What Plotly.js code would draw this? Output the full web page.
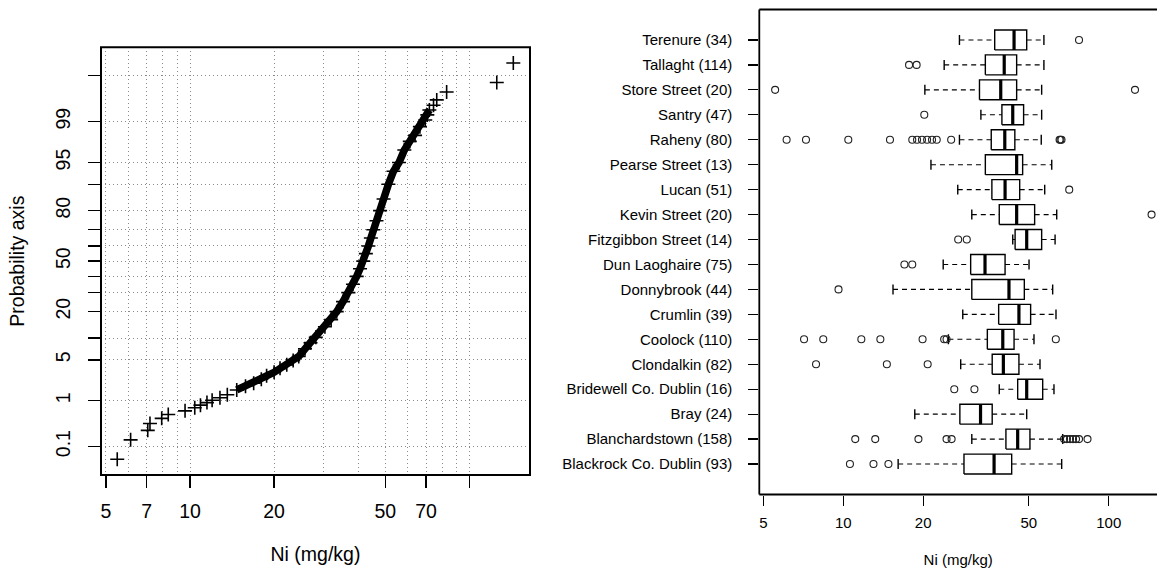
<!DOCTYPE html>
<html><head><meta charset="utf-8">
<script src="https://cdn.plot.ly/plotly-3.0.1.min.js"></script>
<style>html,body{margin:0;padding:0;background:#fff;overflow:hidden}</style>
</head><body><div id="chart" style="width:1157px;height:577px"></div>
<script>
// ---------- Left panel: cumulative probability plot of Ni ----------
const niValues   = [5.49, 6.13, 7.06, 7.19, 7.92, 8.36, 9.60, 10.4, 10.9, 11.5, 12.0, 12.8, 13.6, 14.7, 15.8, 16.9, 18.0, 18.8, 20.0, 21.0, 22.2, 23.4, 24.5, 25.8, 27.0, 28.2, 30.4, 32.0, 33.5, 35.3, 36.9, 38.3, 39.5, 40.6, 41.7, 42.6, 43.5, 44.4, 45.3, 46.5, 47.9, 49.3, 51.3, 53.5, 56.0, 58.5, 61.2, 63.9, 66.5, 69.5, 70.7, 71.9, 74.4, 76.4, 82.9, 125.3, 143.6];
const cumPercent = [0.048, 0.145, 0.24, 0.34, 0.44, 0.53, 0.63, 0.73, 0.82, 0.92, 1.02, 1.14, 1.30, 1.59, 1.85, 2.1, 2.45, 2.8, 3.2, 3.7, 4.2, 4.9, 5.6, 7.2, 8.7, 10.2, 13.7, 16.5, 20, 25, 30, 35, 40, 45, 50, 55, 60, 65, 70, 75, 80, 85, 90, 93.3, 95, 96.8, 97.7, 98.2, 98.75, 99.07, 99.26, 99.41, 99.53, 99.64, 99.76, 99.855, 99.952];
const probTickPercent = [0.1, 1, 5, 10, 20, 30, 40, 50, 60, 70, 80, 90, 95, 99, 99.9];
const probTickText    = ['0.1', '1', '5', '', '20', '', '', '50', '', '', '80', '', '95', '99', ''];
const niTickVals = [5, 7, 10, 20, 50, 70, 100];
const niTickText = ['5', '7', '10', '20', '50', '70', ''];
const niGridVals = [5, 6, 7, 8, 9, 10, 20, 30, 40, 50, 60, 70, 80, 90, 100];

// ---------- Right panel: boxplots by district (bottom to top) ----------
const districts = ['Blackrock Co. Dublin (93)', 'Blanchardstown (158)', 'Bray (24)', 'Bridewell Co. Dublin (16)', 'Clondalkin (82)', 'Coolock (110)', 'Crumlin (39)', 'Donnybrook (44)', 'Dun Laoghaire (75)', 'Fitzgibbon Street (14)', 'Kevin Street (20)', 'Lucan (51)', 'Pearse Street (13)', 'Raheny (80)', 'Santry (47)', 'Store Street (20)', 'Tallaght (114)', 'Terenure (34)'];
const whiskerLow  = [16.1, 30.5, 18.6, 38.7, 27.7, 24.9, 28.2, 15.4, 23.8, 43.5, 30.5, 27.0, 21.4, 27.4, 33.0, 20.3, 24.0, 27.4];
const q1          = [28.5, 41.0, 27.5, 45.4, 36.4, 34.9, 38.5, 30.5, 30.2, 44.4, 38.7, 36.3, 34.3, 36.1, 39.6, 32.6, 34.3, 37.2];
const medians     = [37.0, 45.4, 32.9, 49.1, 40.1, 39.9, 45.9, 42.1, 34.2, 49.1, 45.0, 40.7, 45.0, 40.6, 43.5, 39.2, 40.4, 44.0];
const q3          = [43.1, 50.5, 36.4, 56.4, 45.9, 44.0, 50.8, 48.1, 40.7, 55.9, 52.6, 46.2, 47.4, 44.3, 47.8, 45.0, 45.0, 49.1];
const whiskerHigh = [66.5, 67.1, 49.1, 62.2, 55.1, 52.3, 63.3, 61.5, 50.1, 62.8, 63.7, 57.4, 61.0, 55.7, 55.9, 55.9, 57.0, 57.0];
const outliers = [
  [10.6, 13.0, 14.8],
  [11.1, 13.2, 19.2, 24.5, 25.6, 67.9, 69.6, 71.5, 73.4, 75.3, 77.3, 83.2],
  [],
  [26.2, 31.2],
  [7.9, 14.6, 20.8],
  [7.12, 8.41, 11.7, 13.8, 19.9, 24.0, 24.5, 63.2],
  [],
  [9.6],
  [17.0, 18.2],
  [27.1, 29.2],
  [145.0],
  [71.0],
  [],
  [6.12, 7.24, 10.45, 15.0, 18.2, 18.97, 19.8, 20.7, 21.6, 22.5, 25.5, 65.3, 65.8, 66.4],
  [20.2],
  [5.54, 125.6],
  [17.7, 18.9],
  [77.3]
];
const boxTickVals = [5, 10, 20, 50, 100];

// inverse standard normal (probability axis transform)
function qnorm(p){
  const a=[-3.969683028665376e+01,2.209460984245205e+02,-2.759285104469687e+02,1.383577518672690e+02,-3.066479806614716e+01,2.506628277459239e+00];
  const b=[-5.447609879822406e+01,1.615858368580409e+02,-1.556989798598866e+02,6.680131188771972e+01,-1.328068155288572e+01];
  const c=[-7.784894002430293e-03,-3.223964580411365e-01,-2.400758277161838e+00,-2.549732539343734e+00,4.374664141464968e+00,2.938163982698783e+00];
  const d=[7.784695709041462e-03,3.224671290700398e-01,2.445134137142996e+00,3.754408661907416e+00];
  const pl=0.02425, ph=1-pl; let q, r;
  if(p<pl){q=Math.sqrt(-2*Math.log(p));return (((((c[0]*q+c[1])*q+c[2])*q+c[3])*q+c[4])*q+c[5])/((((d[0]*q+d[1])*q+d[2])*q+d[3])*q+1);}
  if(p<=ph){q=p-0.5;r=q*q;return (((((a[0]*r+a[1])*r+a[2])*r+a[3])*r+a[4])*r+a[5])*q/(((((b[0]*r+b[1])*r+b[2])*r+b[3])*r+b[4])*r+1);}
  q=Math.sqrt(-2*Math.log(1-p));return -(((((c[0]*q+c[1])*q+c[2])*q+c[3])*q+c[4])*q+c[5])/((((d[0]*q+d[1])*q+d[2])*q+d[3])*q+1);
}
const zOf = pc => qnorm(pc/100);

const W = 1157, H = 577;
const FONT = 'Liberation Sans, Arial, Helvetica, sans-serif';
const px = v => v / W, py = v => 1 - v / H;

const traces = [];
// dense band of overlapping points
const bandX = [], bandY = [];
niValues.forEach((v, i) => { if (v >= 14.7 && v <= 71.9) { bandX.push(v); bandY.push(zOf(cumPercent[i])); } });
traces.push({x: bandX, y: bandY, xaxis: 'x', yaxis: 'y', mode: 'lines', line: {color: '#000', width: 7.5}, hoverinfo: 'skip', showlegend: false});
traces.push({x: niValues, y: cumPercent.map(zOf), xaxis: 'x', yaxis: 'y', mode: 'markers',
  marker: {symbol: 'cross-thin', size: 10, line: {color: '#000', width: 1.6}}, hoverinfo: 'skip', showlegend: false});

// boxplots
const BH = 0.4, SH = 0.2;
const bx = [], by = [], mx = [], my = [], wx = [], wy = [], sx = [], sy = [], ox = [], oy = [];
districts.forEach((d, k) => {
  const i = k + 1;
  bx.push(q1[k], q3[k], q3[k], q1[k], q1[k], null); by.push(i-BH, i-BH, i+BH, i+BH, i-BH, null);
  mx.push(medians[k], medians[k], null); my.push(i-BH, i+BH, null);
  wx.push(whiskerLow[k], q1[k], null, q3[k], whiskerHigh[k], null); wy.push(i, i, null, i, i, null);
  sx.push(whiskerLow[k], whiskerLow[k], null, whiskerHigh[k], whiskerHigh[k], null); sy.push(i-SH, i+SH, null, i-SH, i+SH, null);
  outliers[k].forEach(o => { ox.push(o); oy.push(i); });
});
const common2 = {xaxis: 'x2', yaxis: 'y2', hoverinfo: 'skip', showlegend: false};
traces.push(Object.assign({x: wx, y: wy, mode: 'lines', line: {color: '#000', width: 1.1, dash: '5px,4px'}}, common2));
traces.push(Object.assign({x: sx, y: sy, mode: 'lines', line: {color: '#000', width: 1.4}}, common2));
traces.push(Object.assign({x: bx, y: by, mode: 'lines', line: {color: '#000', width: 1.4}, fill: 'none'}, common2));
traces.push(Object.assign({x: mx, y: my, mode: 'lines', line: {color: '#000', width: 3.2}}, common2));
traces.push(Object.assign({x: ox, y: oy, mode: 'markers', marker: {symbol: 'circle-open', size: 7, color: '#222', line: {width: 1.1, color: '#222'}}}, common2));

const gridStyle = {gridcolor: '#8a8a8a', gridwidth: 1, griddash: '1px,3px'};
const layout = {
  width: W, height: H, margin: {l: 0, r: 0, t: 0, b: 0},
  paper_bgcolor: '#fff', plot_bgcolor: '#fff',
  font: {family: FONT, color: '#000'},
  showlegend: false,
  xaxis: {
    type: 'log', range: [0.68146, 2.21689], domain: [px(101), px(530)], anchor: 'y',
    tickmode: 'array', tickvals: niTickVals, ticktext: niTickText,
    ticks: 'outside', ticklen: 12, tickwidth: 1.5, tickcolor: '#000', ticklabelstandoff: 7,
    tickfont: {size: 19.5, family: FONT, color: '#000'},
    showgrid: false, zeroline: false, showline: false,
    minor: Object.assign({tickmode: 'array', tickvals: niGridVals, showgrid: true, ticks: ''}, gridStyle),
    title: {text: 'Ni (mg/kg)', font: {size: 19.5, family: FONT, color: '#000'}, standoff: 25}
  },
  yaxis: {
    range: [-3.564, 3.564], domain: [py(475), py(47.3)], anchor: 'x',
    tickmode: 'array', tickvals: probTickPercent.map(zOf), ticktext: probTickText, tickangle: -90,
    ticks: 'outside', ticklen: 12, tickwidth: 1.5, tickcolor: '#000', ticklabelstandoff: 10,
    tickfont: {size: 19.5, family: FONT, color: '#000'},
    showgrid: true, gridcolor: gridStyle.gridcolor, gridwidth: 1, griddash: gridStyle.griddash,
    zeroline: false, showline: false,
    title: {text: 'Probability axis', font: {size: 19.5, family: FONT, color: '#000'}, standoff: 22}
  },
  xaxis2: {
    type: 'log', range: [0.68390, 2.18184], domain: [px(759.3), 1], anchor: 'y2',
    tickmode: 'array', tickvals: boxTickVals, ticktext: boxTickVals.map(String),
    ticks: 'outside', ticklen: 10, tickwidth: 1.3, tickcolor: '#000', ticklabelstandoff: 4,
    tickfont: {size: 15, family: FONT, color: '#000'},
    showgrid: false, zeroline: false, showline: false,
    title: {text: 'Ni (mg/kg)', font: {size: 15, family: FONT, color: '#000'}, standoff: 24}
  },
  yaxis2: {
    range: [-0.22, 19.22], domain: [py(494.5), py(9.5)], anchor: 'x2',
    tickmode: 'array', tickvals: districts.map((d, k) => k + 1), ticktext: districts,
    ticks: 'outside', ticklen: 10, tickwidth: 1.3, tickcolor: '#000', ticklabelstandoff: 13,
    tickfont: {size: 15, family: FONT, color: '#000'},
    showgrid: false, zeroline: false, showline: false
  },
  shapes: [
    {type: 'rect', xref: 'x domain', yref: 'y domain', x0: 0, x1: 1, y0: 0, y1: 1, line: {color: '#000', width: 2}, layer: 'above'},
    {type: 'line', xref: 'x2 domain', yref: 'y2 domain', x0: 0, x1: 1, y0: 1, y1: 1, line: {color: '#000', width: 1.8}, layer: 'above'},
    {type: 'line', xref: 'x2 domain', yref: 'y2 domain', x0: 0, x1: 0, y0: 0, y1: 1, line: {color: '#000', width: 1.8}, layer: 'above'},
    {type: 'line', xref: 'x2 domain', yref: 'y2 domain', x0: 0, x1: 1, y0: 0, y1: 0, line: {color: '#000', width: 1.8}, layer: 'above'}
  ]
};
Plotly.newPlot('chart', traces, layout, {staticPlot: true, displayModeBar: false});
</script></body></html>
